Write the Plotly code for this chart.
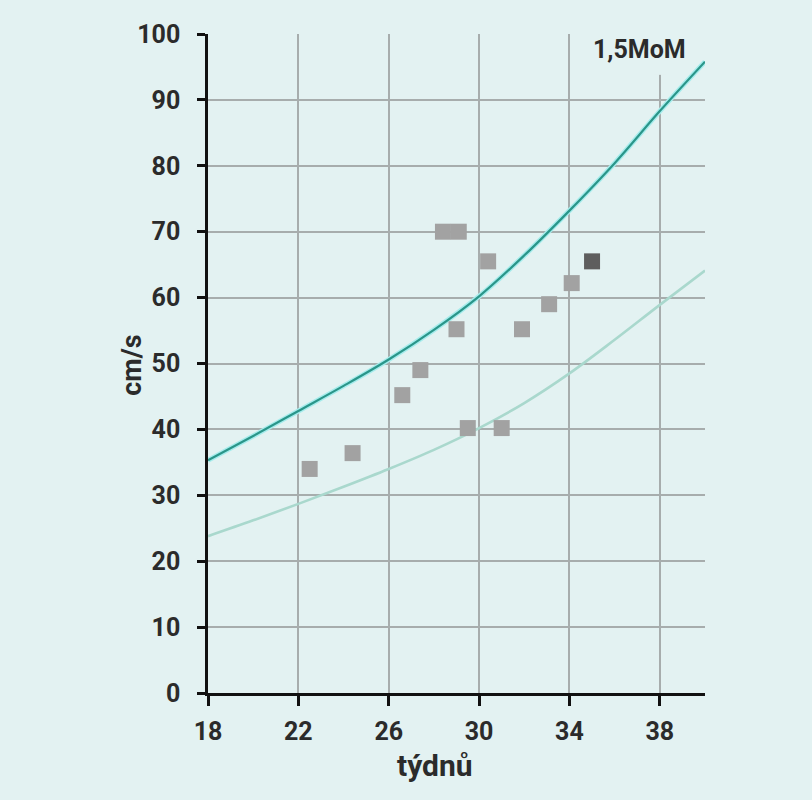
import plotly.graph_objects as go

# Measured points (weeks, cm/s)
points_x = [22.5, 24.4, 26.6, 27.4, 28.4, 29.1, 29.0, 29.5, 30.4, 31.0, 31.9, 33.1, 34.1]
points_y = [34.0, 36.4, 45.2, 49.0, 70.0, 70.0, 55.2, 40.2, 65.5, 40.2, 55.2, 59.0, 62.2]
dark_x = [35.0]
dark_y = [65.5]

# Reference curves
curve_x = [18, 20, 22, 24, 26, 28, 30, 32, 34, 36, 38, 40]
upper_y = [35.3, 39.0, 42.8, 46.6, 50.6, 55.1, 60.2, 66.4, 73.2, 80.4, 88.3, 95.8]
lower_y = [23.8, 26.2, 28.7, 31.3, 34.0, 36.9, 40.2, 44.0, 48.5, 53.6, 58.9, 64.1]

x_ticks = [18, 22, 26, 30, 34, 38]
y_ticks = [0, 10, 20, 30, 40, 50, 60, 70, 80, 90, 100]
curve_label = "1,5MoM"
x_title = "týdnů"
y_title = "cm/s"

BG = "#e3f2f2"
GRID = "#a7adad"
FONT = "Roboto, sans-serif"
TXT = "#2b2b2b"

line_kw = dict(shape="spline", smoothing=1.0)

fig = go.Figure()
fig.add_trace(go.Scatter(x=curve_x, y=lower_y, mode="lines", line=dict(color="#a9d8cd", width=2.6, **line_kw),
                         hoverinfo="skip", showlegend=False))
fig.add_trace(go.Scatter(x=curve_x, y=upper_y, mode="lines", line=dict(color="#a6ecec", width=5, **line_kw),
                         hoverinfo="skip", showlegend=False))
fig.add_trace(go.Scatter(x=curve_x, y=upper_y, mode="lines", line=dict(color="#2a968a", width=2.2, **line_kw),
                         showlegend=False))
fig.add_trace(go.Scatter(x=points_x, y=points_y, mode="markers",
                         marker=dict(symbol="square", size=16, color="#a2a2a2", line=dict(width=0)),
                         showlegend=False))
fig.add_trace(go.Scatter(x=dark_x, y=dark_y, mode="markers",
                         marker=dict(symbol="square", size=16, color="#5e5e5e", line=dict(width=0)),
                         showlegend=False))

# background patch hiding the 38-week gridline behind the label
fig.add_shape(type="rect", xref="x", yref="y", x0=37.7, x1=38.3, y0=93.8, y1=99.2,
              fillcolor=BG, line=dict(width=0), layer="between")

fig.add_annotation(x=37.1, y=97.6, xref="x", yref="y", text="<b>" + curve_label + "</b>", showarrow=False,
                   font=dict(family=FONT, size=25, color=TXT), bgcolor=BG, borderpad=3)
fig.add_annotation(x=28.05, y=-0.11, xref="x", yref="paper", text="<b>" + x_title + "</b>", showarrow=False,
                   font=dict(family=FONT, size=30, color=TXT), yanchor="middle")
fig.add_annotation(x=-0.153, y=0.498, xref="paper", yref="paper", text="<b>" + y_title + "</b>", showarrow=False,
                   textangle=-90, font=dict(family=FONT, size=27, color=TXT), xanchor="center", yanchor="middle")

fig.update_xaxes(range=[18, 40], tickvals=x_ticks, showgrid=True, gridcolor=GRID, gridwidth=2,
                 showline=True, linecolor="#111", linewidth=2.5, ticks="outside", ticklen=10, tickwidth=2.5,
                 tickcolor="#111", zeroline=False, fixedrange=True, ticklabelstandoff=4,
                 tickfont=dict(family=FONT, size=25, color=TXT, weight=700))
fig.update_yaxes(range=[0, 100], tickvals=y_ticks, showgrid=True, gridcolor=GRID, gridwidth=2,
                 showline=True, linecolor="#111", linewidth=2.5, ticks="outside", ticklen=8, tickwidth=2.5,
                 tickcolor="#111", zeroline=False, fixedrange=True, ticklabelstandoff=12,
                 tickfont=dict(family=FONT, size=25, color=TXT, weight=700))

fig.update_layout(width=812, height=800, paper_bgcolor=BG, plot_bgcolor=BG,
                  margin=dict(l=208, r=107, t=34, b=107), showlegend=False)

fig.write_html("out.html", config={"displayModeBar": False},
               post_script="document.body.style.margin='0';document.body.style.background='" + BG + "';")
